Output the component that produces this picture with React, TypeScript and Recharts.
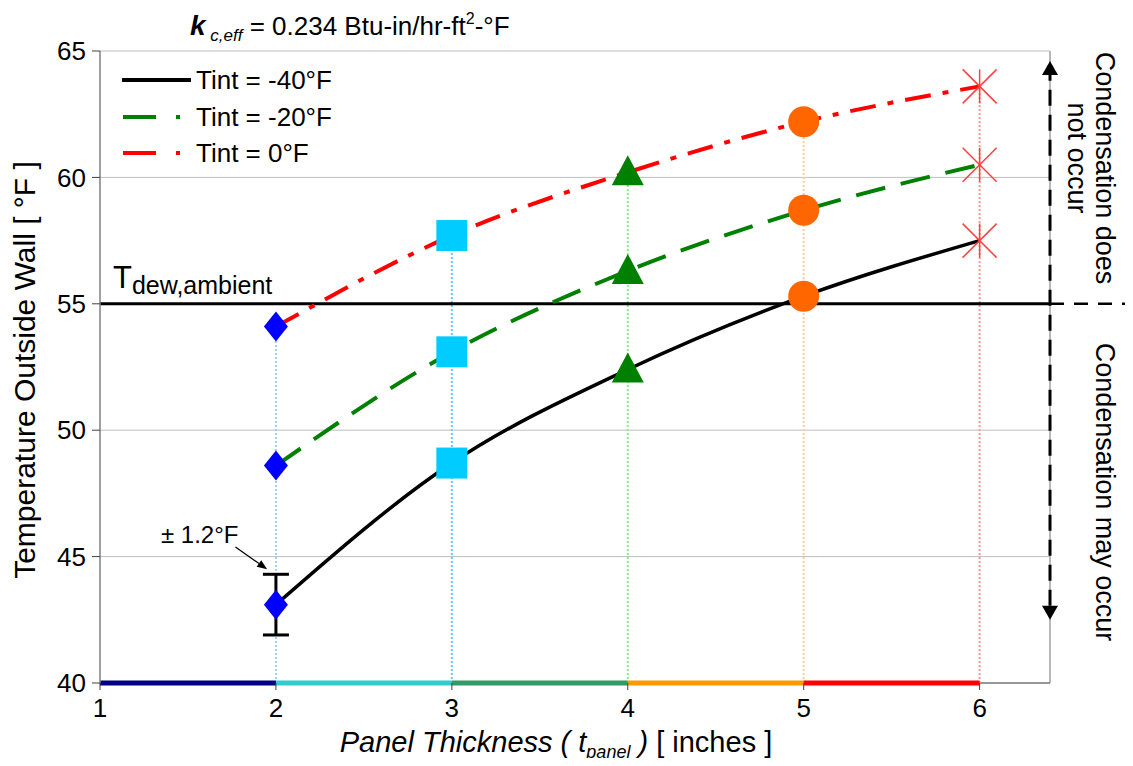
import React from 'react';
import { ComposedChart, Line, XAxis, YAxis, CartesianGrid, ReferenceLine, ErrorBar } from 'recharts';

const thickness = [2, 3, 4, 5, 6];
const tintMinus40 = [43.1, 48.7, 52.4, 55.3, 57.5];
const tintMinus20 = [48.6, 53.1, 56.3, 58.7, 60.5];
const tintZero = [54.1, 57.7, 60.2, 62.2, 63.6];
const errorMinus40 = [1.2, undefined, undefined, undefined, undefined];
const markerShapes = ['diamond', 'square', 'triangle', 'circle', 'star'];
const markerColors = ['#0000FF', '#00CCFF', '#008000', '#FF6600', '#FF4040'];
const dropLineColors = ['#99CCFF', '#66CCFF', '#88EE88', '#FFCC99', '#FF9999'];
const bandStarts = [1, 2, 3, 4, 5];
const bandEnds = [2, 3, 4, 5, 6];
const bandColors = ['#000080', '#33CCCC', '#339966', '#FF9900', '#FF0000'];
const xTicks = [1, 2, 3, 4, 5, 6];
const yTicks = [40, 45, 50, 55, 60, 65];
const xDomain = [1, 6.4];
const yDomain = [40, 65];
const dewPoint = 55;
const arrowRange = [42.5, 64.6];
const annotationFrom = { x: 1.77, y: 45.38 };
const annotationTo = { x: 1.95, y: 44.5 };
const seriesNames = ['Tint = -40°F', 'Tint = -20°F', 'Tint = 0°F'];
const seriesColors = ['#000000', '#008000', '#FF0000'];

const data = thickness.map((t, i) => ({
  t,
  m40: tintMinus40[i],
  m20: tintMinus20[i],
  z: tintZero[i],
  err: errorMinus40[i],
}));

const FONT = '"Liberation Sans", Arial, Helvetica, sans-serif';

function Marker(props: any) {
  const { cx, cy, index, key } = props;
  if (cx == null || cy == null) return <g key={key} />;
  const shape = markerShapes[index];
  const color = markerColors[index];
  const k = `m-${props.dataKey}-${index}`;
  if (shape === 'diamond') {
    return <polygon key={k} points={`${cx},${cy - 15} ${cx + 12},${cy} ${cx},${cy + 15} ${cx - 12},${cy}`} fill={color} />;
  }
  if (shape === 'square') {
    return <rect key={k} x={cx - 15.5} y={cy - 15.5} width={31} height={31} fill={color} />;
  }
  if (shape === 'triangle') {
    return <polygon key={k} points={`${cx},${cy - 17} ${cx + 16},${cy + 13} ${cx - 16},${cy + 13}`} fill={color} />;
  }
  if (shape === 'circle') {
    return <circle key={k} cx={cx} cy={cy} r={15.5} fill={color} />;
  }
  return (
    <g key={k} stroke={color} strokeWidth={1.5}>
      <line x1={cx - 17} y1={cy - 17} x2={cx + 17} y2={cy + 17} />
      <line x1={cx - 17} y1={cy + 17} x2={cx + 17} y2={cy - 17} />
      <line x1={cx} y1={cy - 17} x2={cx} y2={cy + 17} />
    </g>
  );
}

function head(tx: number, ty: number, ux: number, uy: number, len: number, hw: number, color: string) {
  const bx = tx - ux * len;
  const by = ty - uy * len;
  const px = -uy;
  const py = ux;
  return <polygon points={`${tx},${ty} ${bx + px * hw},${by + py * hw} ${bx - px * hw},${by - py * hw}`} fill={color} />;
}

function DoubleArrow(props: any) {
  const { x1, y1, x2, y2 } = props;
  const dx = x2 - x1;
  const dy = y2 - y1;
  const L = Math.sqrt(dx * dx + dy * dy) || 1;
  const ux = dx / L;
  const uy = dy / L;
  const len = 14;
  return (
    <g>
      <line x1={x1 + ux * len} y1={y1 + uy * len} x2={x2 - ux * len} y2={y2 - uy * len} stroke="#000" strokeWidth={3} strokeDasharray="16 9" />
      {head(x1, y1, -ux, -uy, len, 8, '#000')}
      {head(x2, y2, ux, uy, len, 8, '#000')}
    </g>
  );
}

function SingleArrow(props: any) {
  const { x1, y1, x2, y2 } = props;
  const dx = x2 - x1;
  const dy = y2 - y1;
  const L = Math.sqrt(dx * dx + dy * dy) || 1;
  const ux = dx / L;
  const uy = dy / L;
  const len = 10;
  return (
    <g>
      <line x1={x1} y1={y1} x2={x2 - ux * len} y2={y2 - uy * len} stroke="#000" strokeWidth={1.3} />
      {head(x2, y2, ux, uy, len, 4, '#000')}
    </g>
  );
}

function BandLine(props: any) {
  const { x1, y1, x2, y2, stroke, strokeWidth } = props;
  return <line x1={x1} y1={y1} x2={x2} y2={y2} stroke={stroke} strokeWidth={strokeWidth} />;
}

function LegendBox() {
  const rows = [0, 1, 2];
  const ys = [72, 109, 145];
  return (
    <g>
      {rows.map((i) => (
        <g key={i}>
          {i === 0 ? (
            <line x1={114} y1={ys[i]} x2={183} y2={ys[i]} stroke={seriesColors[i]} strokeWidth={4} />
          ) : (
            <g>
              <line x1={115} y1={ys[i]} x2={148} y2={ys[i]} stroke={seriesColors[i]} strokeWidth={4} />
              <line x1={168} y1={ys[i]} x2={172} y2={ys[i]} stroke={seriesColors[i]} strokeWidth={4} />
            </g>
          )}
          <text x={188} y={ys[i] + 9} fontSize={26} fill="#000">{seriesNames[i]}</text>
        </g>
      ))}
    </g>
  );
}

export default function App() {
  return (
    <div style={{ position: 'relative', width: 1125, height: 750, fontFamily: FONT }}>
      <ComposedChart width={1125} height={750} data={data} margin={{ top: 43, right: 83, left: 32, bottom: 35 }}>
        <CartesianGrid vertical={false} stroke="#BFBFBF" strokeWidth={1} />
        <XAxis
          type="number"
          dataKey="t"
          domain={xDomain}
          ticks={xTicks}
          allowDataOverflow
          height={40}
          interval={0}
          tickSize={7}
          tickMargin={9}
          tick={{ fontSize: 26, fill: '#000' }}
          axisLine={false}
          tickLine={{ stroke: '#404040' }}
        />
        <YAxis
          type="number"
          domain={yDomain}
          ticks={yTicks}
          allowDataOverflow
          width={60}
          interval={0}
          tickSize={8}
          tickMargin={6}
          tick={{ fontSize: 26, fill: '#000' }}
          axisLine={{ stroke: '#808080', strokeWidth: 1.5 }}
          tickLine={{ stroke: '#404040' }}
        />
        <ReferenceLine x={xDomain[1]} stroke="#A0A0A0" strokeWidth={1.5} />
        <ReferenceLine
          segment={[{ x: xDomain[0], y: yDomain[0] }, { x: xDomain[1], y: yDomain[0] }]}
          stroke="#808080"
          strokeWidth={1.5}
          ifOverflow="visible"
          shape={BandLine}
        />
        {thickness.map((t, i) => (
          <ReferenceLine
            key={`drop-${t}`}
            segment={[{ x: t, y: yDomain[0] }, { x: t, y: tintZero[i] }]}
            stroke={dropLineColors[i]}
            strokeWidth={2}
            strokeDasharray="2 2"
          />
        ))}
        {bandStarts.map((s, i) => (
          <ReferenceLine
            key={`band-${s}`}
            segment={[{ x: s, y: yDomain[0] }, { x: bandEnds[i], y: yDomain[0] }]}
            stroke={bandColors[i]}
            strokeWidth={5}
            ifOverflow="visible"
            shape={BandLine}
          />
        ))}
        <ReferenceLine y={dewPoint} stroke="#000" strokeWidth={3} />
        <ReferenceLine
          segment={[{ x: xDomain[1], y: dewPoint }, { x: 6.95, y: dewPoint }]}
          stroke="#000"
          strokeWidth={2.5}
          strokeDasharray="14 10"
          ifOverflow="visible"
        />
        <ReferenceLine
          segment={[{ x: xDomain[1], y: arrowRange[0] }, { x: xDomain[1], y: arrowRange[1] }]}
          stroke="#000"
          ifOverflow="visible"
          shape={DoubleArrow}
        />
        <ReferenceLine
          segment={[annotationFrom, annotationTo]}
          stroke="#000"
          ifOverflow="visible"
          shape={SingleArrow}
        />
        <Line
          dataKey="z"
          type="monotone"
          stroke="#FF0000"
          strokeWidth={4}
          strokeDasharray="26 12 6 12"
          dot={Marker}
          activeDot={false}
          isAnimationActive={false}
        />
        <Line
          dataKey="m20"
          type="monotone"
          stroke="#008000"
          strokeWidth={4}
          strokeDasharray="30 16"
          dot={Marker}
          activeDot={false}
          isAnimationActive={false}
        />
        <Line
          dataKey="m40"
          type="monotone"
          stroke="#000000"
          strokeWidth={3.5}
          dot={Marker}
          activeDot={false}
          isAnimationActive={false}
        >
          <ErrorBar dataKey="err" width={13} strokeWidth={3} stroke="#000" direction="y" isAnimationActive={false} />
        </Line>
      </ComposedChart>
      <svg width={1125} height={758} style={{ position: 'absolute', left: 0, top: 0, pointerEvents: 'none', fontFamily: FONT, overflow: 'visible' }}>
        <text x={182} y={27} fontSize={26} fill="#000">
          <tspan fontWeight="bold" fontStyle="italic" fontSize={28}>k</tspan>
          <tspan fontStyle="italic" fontSize={17} dy={6}> c,eff</tspan>
          <tspan dy={-6}> = 0.234 Btu-in/hr-ft</tspan>
          <tspan fontSize={16} dy={-11}>2</tspan>
          <tspan dy={11}>-°F</tspan>
        </text>
        <LegendBox />
        <text x={105} y={280} fontSize={31} fill="#000">
          T<tspan fontSize={25} dy={6}>dew,ambient</tspan>
        </text>
        <text x={153} y={535} fontSize={24} fill="#000">± 1.2°F</text>
        <text transform="translate(27,362) rotate(-90)" textAnchor="middle" fontSize={30} fill="#000">
          Temperature Outside Wall  [ °F ]
        </text>
        <text x={548} y={744} textAnchor="middle" fontSize={29} fill="#000">
          <tspan fontStyle="italic">Panel Thickness ( t</tspan>
          <tspan fontStyle="italic" fontSize={18} dy={6}>panel</tspan>
          <tspan fontStyle="italic" dy={-6}>  ) </tspan>
          <tspan> [ inches ]</tspan>
        </text>
        <text transform="translate(1088,160) rotate(90)" textAnchor="middle" fontSize={27} fill="#000">
          Condensation does
        </text>
        <text transform="translate(1060,150) rotate(90)" textAnchor="middle" fontSize={27} fill="#000">
          not occur
        </text>
        <text transform="translate(1088,484) rotate(90)" textAnchor="middle" fontSize={27} fill="#000">
          Condensation may occur
        </text>
      </svg>
    </div>
  );
}
